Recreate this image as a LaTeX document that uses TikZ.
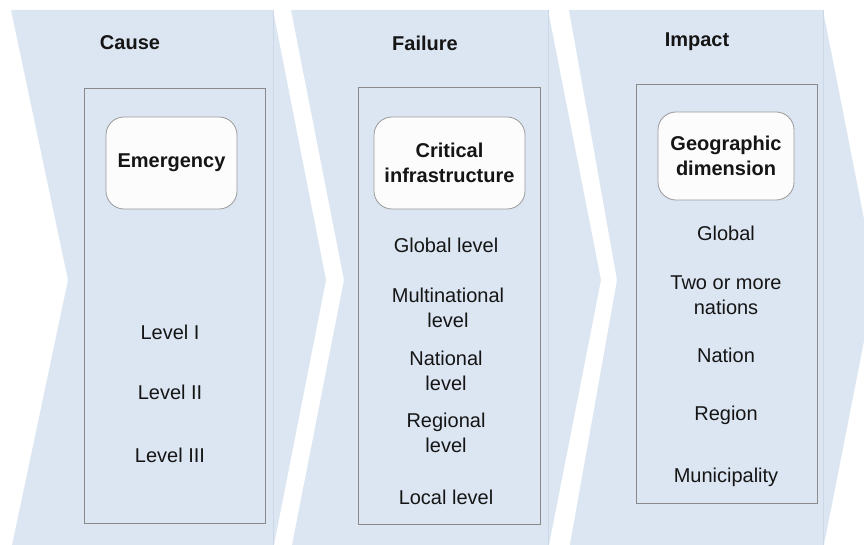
\documentclass[tikz,border=0pt]{standalone}
\usepackage{fontspec}
\setmainfont{Liberation Sans}
\definecolor{chev}{HTML}{DCE6F2}
\definecolor{chevline}{HTML}{CCD8E8}
\definecolor{framegray}{HTML}{8A8A8A}
\definecolor{boxgray}{HTML}{9A9A9A}
\definecolor{boxfill}{HTML}{FCFCFC}
\definecolor{txt}{HTML}{151515}
\tikzset{
  chevshape/.style={fill=chev, draw=none},
  panel/.style={draw=framegray, line width=0.8pt, fill=none, inner sep=0pt},
  headbox/.style={draw=boxgray, line width=0.8pt, fill=boxfill, rounded corners=18pt,
    inner sep=0pt, align=center, text=txt, font=\fontsize{20}{24.5}\selectfont\bfseries},
  heading/.style={inner sep=0pt, text=txt, font=\fontsize{20}{24.5}\selectfont\bfseries},
  item/.style={inner sep=0pt, align=center, text=txt, font=\fontsize{20}{24.5}\selectfont}
}
\begin{document}
\begin{tikzpicture}[x=1pt,y=-1pt]
\useasboundingbox (0,0) rectangle (864,545);
\begin{scope}
\clip (0,0) rectangle (864,545);
% chevrons
\fill[chevshape] (11,10) -- (273,10) -- (326,280) -- (273,550) -- (11,550) -- (68,280) -- cycle;
\fill[chevshape] (291,10) -- (548,10) -- (601,280) -- (548,550) -- (291,550) -- (344,280) -- cycle;
\fill[chevshape] (569,10) -- (823,10) -- (876,280) -- (823,550) -- (569,550) -- (617,280) -- cycle;
\draw[chevline, line width=0.7pt] (273,10) -- (273,545);
\draw[chevline, line width=0.7pt] (548,10) -- (548,545);
\draw[chevline, line width=0.7pt] (823,10) -- (823,545);
\end{scope}

% headings
\node[heading] (h1) at (130,43) {Cause};
\node[heading] (h2) at (425,43) {Failure};
\node[heading] (h3) at (697,42) {Impact};

% panels
\node[panel, minimum width=181pt, minimum height=435pt] (p1) at (174.5,305.5) {};
\node[panel, minimum width=182pt, minimum height=437pt] (p2) at (449,305.5) {};
\node[panel, minimum width=181pt, minimum height=419pt] (p3) at (726.5,293.5) {};

% rounded boxes
\node[headbox, minimum width=131pt, minimum height=92pt] (b1) at (171.5,163) {Emergency};
\node[headbox, minimum width=151pt, minimum height=92pt] (b2) at (449.5,163) {Critical\\infrastructure};
\node[headbox, minimum width=136pt, minimum height=88pt] (b3) at (726,156) {Geographic\\dimension};

% column 1
\node[item] (c1a) at (170,332) {Level I};
\node[item] (c1b) at (170,392) {Level II};
\node[item] (c1c) at (170,455) {Level III};

% column 2
\node[item] (c2a) at (446,245) {Global level};
\node[item] (c2b) at (448,308) {Multinational\\level};
\node[item] (c2c) at (446,371) {National\\level};
\node[item] (c2d) at (446,433) {Regional\\level};
\node[item] (c2e) at (446,497) {Local level};

% column 3
\node[item] (c3a) at (726,233) {Global};
\node[item] (c3b) at (726,295) {Two or more\\nations};
\node[item] (c3c) at (726,355) {Nation};
\node[item] (c3d) at (726,415) {Region};
\node[item] (c3e) at (726,477) {Municipality};
\end{tikzpicture}
\end{document}
